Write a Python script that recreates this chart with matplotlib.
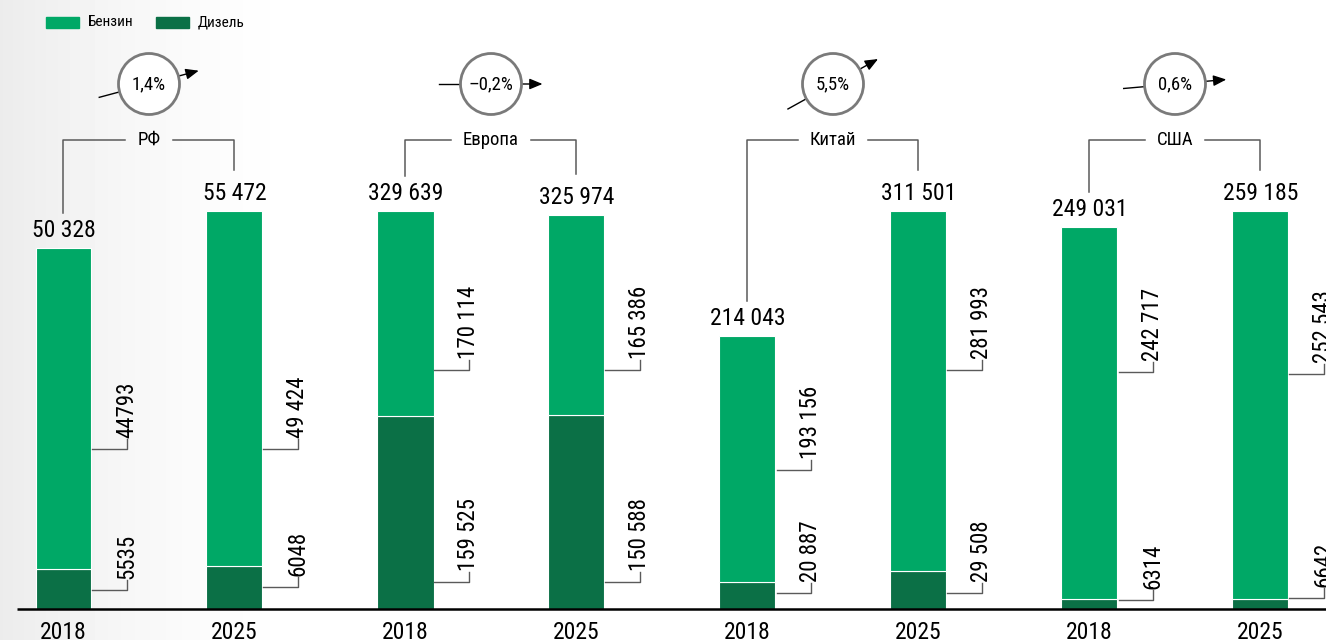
import numpy as np
import matplotlib
matplotlib.use("Agg")
import matplotlib.pyplot as plt
from matplotlib import patches, font_manager

# data
countries = ["РФ", "Европа", "Китай", "США"]
years = ["2018", "2025"]
totals = [50328, 55472, 329639, 325974, 214043, 311501, 249031, 259185]
gasoline = [44793, 49424, 170114, 165386, 193156, 281993, 242717, 252543]
diesel = [5535, 6048, 159525, 150588, 20887, 29508, 6314, 6642]
gasoline_labels = ["44793", "49 424", "170 114", "165 386", "193 156", "281 993", "242 717", "252 543"]
diesel_labels = ["5535", "6048", "159 525", "150 588", "20 887", "29 508", "6314", "6642"]
growth = ["1,4%", "–0,2%", "5,5%", "0,6%"]

# layout (pixels)
W, H = 1326, 640
X0, STEP = 63.5, 171       # first bar centre, bar spacing
BASE, SCALE = 609, 398     # baseline y, height of the largest bar of a pair
BAR_W = 56
gas_leader_y = [449, 449, 370, 370, 470, 370, 372, 374]
dsl_leader_y = [590, 587, 582, 582, 593, 593, 600, 598]
arrow_angle = [15, 0, 29, 5]

LIGHT = "#00a866"
DARK = "#0b7046"
GREY = "#5a5a5a"

names = {f.name for f in font_manager.fontManager.ttflist}
condensed = [n for n in ("Roboto Condensed", "PT Sans Narrow", "Fira Sans Condensed", "Asap Condensed")
             if n in names]
base_font = condensed[0] if condensed else "Liberation Sans"
plt.rcParams["font.family"] = [base_font, "DejaVu Sans"]


def dx(px):
    return (px - X0) / STEP


def dy(py):
    return (BASE - py) / SCALE


def fmt(v):
    return f"{v:,}".replace(",", " ") if v >= 10000 else str(v)


fig = plt.figure(figsize=(W / 100, H / 100), dpi=100)
ax = fig.add_axes([0, 0, 1, 1])

# light grey shading on the left edge
xs = np.arange(W)
shade = 1 - 0.075 * np.clip(1 - xs / 320, 0, 1) ** 1.6
ax.imshow(np.tile(shade, (2, 1)), cmap="gray", vmin=0, vmax=1, aspect="auto",
          extent=[dx(0), dx(W), dy(H), dy(0)], zorder=0)

# each country pair is scaled to its own larger bar
tot = np.array(totals, dtype=float)
gas = np.array(gasoline, dtype=float)
gmax = np.repeat(tot.reshape(4, 2).max(axis=1), 2)
lower = (tot - gas) / gmax
upper = gas / gmax
x = np.arange(len(totals))

ax.bar(x, lower, width=BAR_W / STEP, color=DARK, edgecolor="white", linewidth=0.8, zorder=2)
ax.bar(x, upper, bottom=lower, width=BAR_W / STEP, color=LIGHT, edgecolor="white", linewidth=0.8, zorder=2)
ax.plot([dx(17), dx(W)], [0, 0], color="black", lw=1.8, solid_capstyle="butt", zorder=3)

top_px = BASE - (lower + upper) * SCALE
for i in x:
    cx = X0 + STEP * i
    ax.text(i, dy(639), years[i % 2], ha="center", va="baseline", fontsize=17)
    ax.text(i, dy(top_px[i] - 11), fmt(totals[i]), ha="center", va="baseline", fontsize=17)
    for ly, lab in ((gas_leader_y[i], gasoline_labels[i]), (dsl_leader_y[i], diesel_labels[i])):
        xv = cx + 63.5
        ax.plot([dx(cx + BAR_W / 2 + 1), dx(xv), dx(xv)], [dy(ly), dy(ly), dy(ly - 10)],
                color=GREY, lw=1.0, zorder=3)
        ax.text(dx(xv), dy(ly - 11), lab, rotation=90, ha="center", va="bottom", fontsize=16.5)

# country brackets and growth circles
labels = []
for g, name in enumerate(countries):
    gcx = X0 + STEP * (2 * g + 0.5)
    labels.append(ax.text(dx(gcx), dy(140), name, ha="center", va="center", fontsize=13.5))

    cy, r = 84, 30.5
    ax.add_patch(patches.Ellipse((dx(gcx), dy(cy)), 2 * r / STEP, 2 * r / SCALE,
                                 facecolor="white", edgecolor="#7a7a7a", lw=2, zorder=4))
    ax.text(dx(gcx), dy(cy), growth[g], ha="center", va="center", fontsize=13.5, zorder=5)
    a = np.deg2rad(arrow_angle[g])
    ux, uy = np.cos(a), -np.sin(a)
    ax.plot([dx(gcx - ux * (r + 1)), dx(gcx - ux * (r + 21))],
            [dy(cy - uy * (r + 1)), dy(cy - uy * (r + 21))], color="black", lw=1.0)
    ax.annotate("", xy=(dx(gcx + ux * (r + 21)), dy(cy + uy * (r + 21))),
                xytext=(dx(gcx + ux * (r + 1)), dy(cy + uy * (r + 1))),
                arrowprops=dict(arrowstyle="-|>,head_length=0.6,head_width=0.25", color="black",
                                lw=1.0, shrinkA=0, shrinkB=0, mutation_scale=13))

fig.canvas.draw()
renderer = fig.canvas.get_renderer()
for g, t in enumerate(labels):
    half = t.get_window_extent(renderer).width / 2 + 12
    c0, c1 = X0 + STEP * 2 * g, X0 + STEP * (2 * g + 1)
    gcx = (c0 + c1) / 2
    ax.plot([dx(c0), dx(c0), dx(gcx - half)], [dy(top_px[2 * g] - 35), dy(140), dy(140)],
            color=GREY, lw=1.1)
    ax.plot([dx(gcx + half), dx(c1), dx(c1)], [dy(140), dy(140), dy(top_px[2 * g + 1] - 41)],
            color=GREY, lw=1.1)

# legend
for lx, col, name in ((46, LIGHT, "Бензин"), (156, DARK, "Дизель")):
    ax.add_patch(patches.Rectangle((dx(lx), dy(28)), 33 / STEP, 11 / SCALE, color=col))
    ax.text(dx(lx + 42), dy(22.5), name, ha="left", va="center", fontsize=11)

ax.set_xlim(dx(0), dx(W))
ax.set_ylim(dy(H), dy(0))
ax.axis("off")
fig.savefig("out.png", dpi=100)
